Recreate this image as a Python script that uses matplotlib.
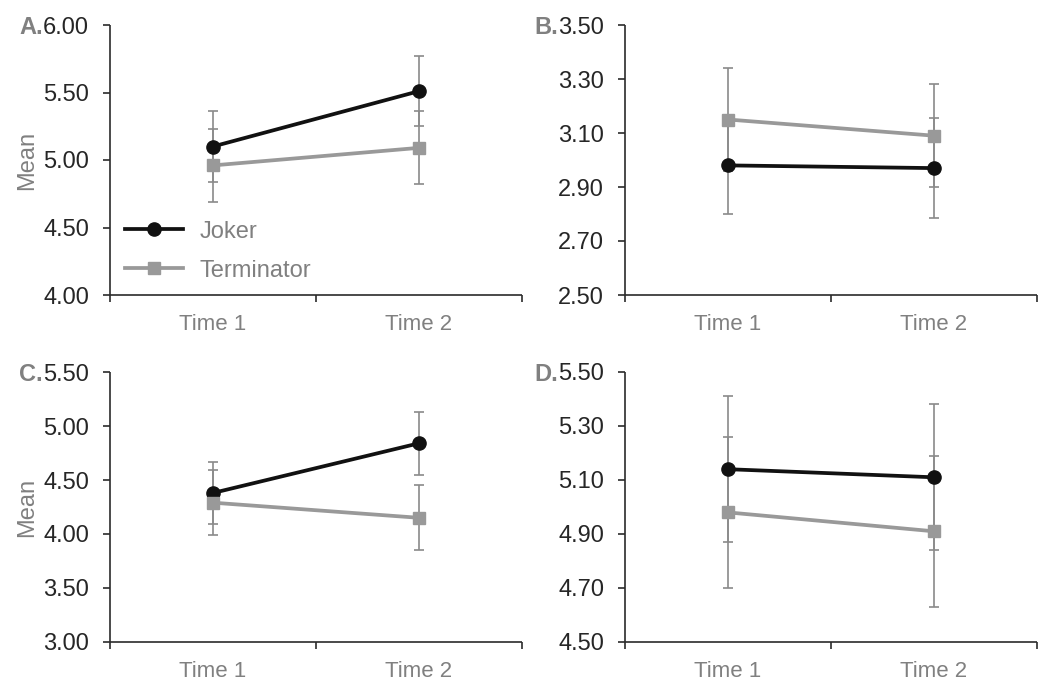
#!/usr/bin/env python
import matplotlib
matplotlib.use('Agg')
import matplotlib.pyplot as plt
from matplotlib.ticker import FormatStrFormatter

############# DATA ############
times = ['Time 1', 'Time 2']
series_names = ['Joker', 'Terminator']

joker_a = [5.10, 5.51]
joker_a_err = [0.26, 0.26]
term_a = [4.96, 5.09]
term_a_err = [0.27, 0.27]

joker_b = [2.98, 2.97]
joker_b_err = [0.18, 0.185]
term_b = [3.15, 3.09]
term_b_err = [0.19, 0.19]

joker_c = [4.38, 4.84]
joker_c_err = [0.29, 0.29]
term_c = [4.29, 4.15]
term_c_err = [0.30, 0.30]

joker_d = [5.14, 5.11]
joker_d_err = [0.27, 0.27]
term_d = [4.98, 4.91]
term_d_err = [0.28, 0.28]

panel_letters = ['A.', 'B.', 'C.', 'D.']
y_limits = [(4.0, 6.0), (2.5, 3.5), (3.0, 5.5), (4.5, 5.5)]
y_steps = [0.5, 0.2, 0.5, 0.2]

############# PLOT SETTINGS ############
W, H = 1051, 684
font = 'Liberation Sans'
fs_tick = 17
fs_time = 16
joker_color = '#111111'
term_color = '#999999'
err_color = '#8a8a8a'
axis_color = '#2b2b2b'
tick_label_color = '#262626'
gray_text = '#808080'

plt.rcParams['font.family'] = [font, 'DejaVu Sans']

fig = plt.figure(figsize=(W / 100, H / 100), dpi=100)

# axes boxes in pixels: left, top, right, bottom
boxes = [(110, 25, 522, 295), (625, 25, 1037, 295),
         (110, 372, 522, 642), (625, 372, 1037, 642)]

joker_all = [(joker_a, joker_a_err), (joker_b, joker_b_err), (joker_c, joker_c_err), (joker_d, joker_d_err)]
term_all = [(term_a, term_a_err), (term_b, term_b_err), (term_c, term_c_err), (term_d, term_d_err)]

xpos = [0.5, 1.5]

for i, (l, t, r, b) in enumerate(boxes):
    ax = fig.add_axes([l / W, 1 - b / H, (r - l) / W, (b - t) / H])
    jv, je = joker_all[i]
    tv, te = term_all[i]

    ax.errorbar(xpos, jv, yerr=je, fmt='none', ecolor=err_color, elinewidth=1.2,
                capsize=3.5, capthick=1.2, zorder=2)
    ax.errorbar(xpos, tv, yerr=te, fmt='none', ecolor=err_color, elinewidth=1.2,
                capsize=3.5, capthick=1.2, zorder=2)
    ax.plot(xpos, jv, color=joker_color, lw=2.7, marker='o', ms=9.5,
            label=series_names[0], zorder=3)
    ax.plot(xpos, tv, color=term_color, lw=2.7, marker='s', ms=8.5,
            label=series_names[1], zorder=4)

    lo, hi = y_limits[i]
    ax.set_ylim(lo, hi)
    n = int(round((hi - lo) / y_steps[i]))
    ax.set_yticks([lo + k * y_steps[i] for k in range(n + 1)])
    ax.yaxis.set_major_formatter(FormatStrFormatter('%.2f'))
    ax.set_xlim(0, 2)
    ax.set_xticks([0, 1, 2])
    ax.set_xticklabels([])
    ax.set_xticks(xpos, minor=True)
    ax.set_xticklabels(times, minor=True)

    for s in ['top', 'right']:
        ax.spines[s].set_visible(False)
    for s in ['left', 'bottom']:
        ax.spines[s].set_linewidth(1.2)
        ax.spines[s].set_color(axis_color)
        ax.spines[s].set_capstyle('butt')

    ax.tick_params(axis='y', which='major', direction='out', length=5, width=1.2,
                   color=axis_color, labelsize=fs_tick, labelcolor=tick_label_color, pad=10)
    ax.tick_params(axis='x', which='major', direction='out', length=5, width=1.2,
                   color=axis_color)
    ax.tick_params(axis='x', which='minor', length=0, labelsize=fs_time,
                   labelcolor=gray_text, pad=14)

    if i % 2 == 0:
        ax.text(-0.20, 0.5, 'Mean', rotation=90, transform=ax.transAxes,
                ha='center', va='center', fontsize=fs_tick, color=gray_text)

    # panel letter, just left of the top tick label
    fig.text((l - 67) / W, 1 - t / H, panel_letters[i], ha='right', va='center_baseline',
             fontsize=fs_tick, fontweight='bold', color=gray_text)

    if i == 0:
        leg = ax.legend(loc='lower left', bbox_to_anchor=(0.036, 0.05), frameon=False,
                        fontsize=fs_tick, handlelength=2.46, handletextpad=0.72,
                        labelspacing=0.72, borderpad=0, borderaxespad=0)
        for txt in leg.get_texts():
            txt.set_color(gray_text)

fig.savefig('out.png', dpi=100)
